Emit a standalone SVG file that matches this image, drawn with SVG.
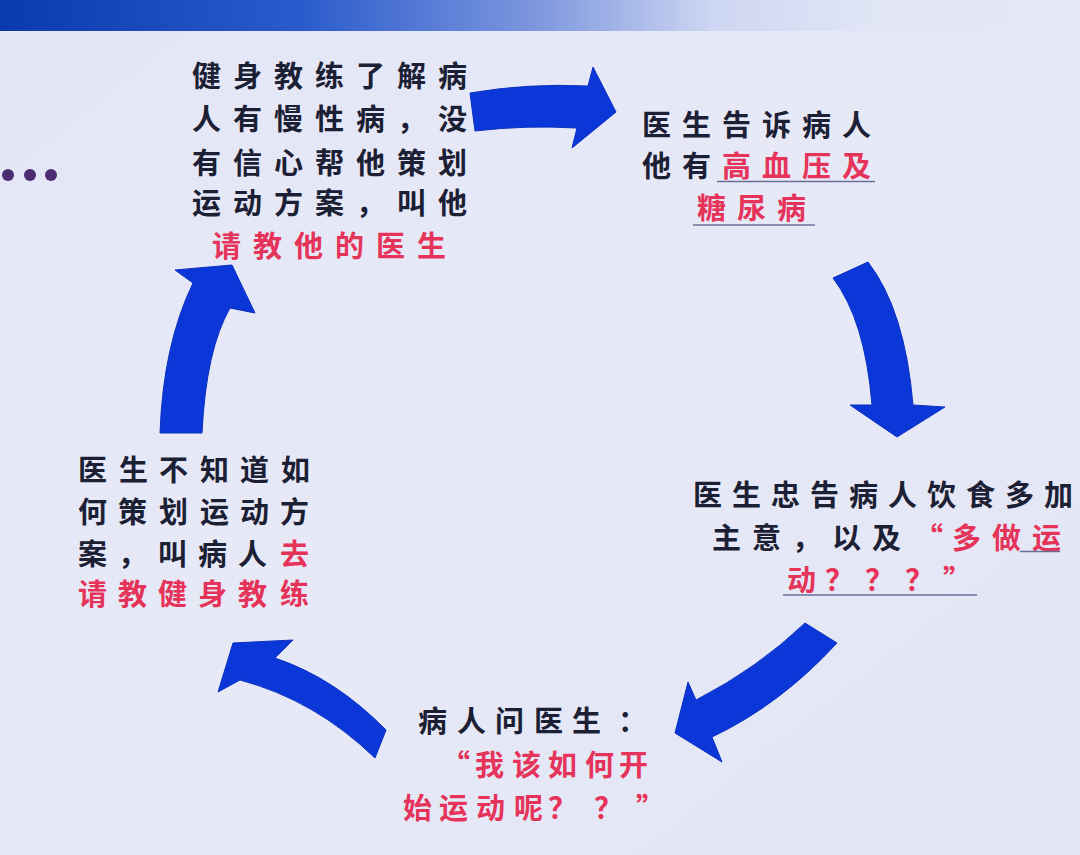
<svg xmlns="http://www.w3.org/2000/svg" width="1080" height="855" viewBox="0 0 1080 855">
<defs>
<linearGradient id="bar" x1="0" y1="0" x2="1" y2="0">
<stop offset="0" stop-color="#0a3aae"/>
<stop offset="0.28" stop-color="#2a5bcc"/>
<stop offset="0.5" stop-color="#7f98de"/>
<stop offset="0.66" stop-color="#cdd6f2"/>
<stop offset="0.8" stop-color="#e0e5f6"/>
<stop offset="1" stop-color="#e4e8f7"/>
</linearGradient>
<linearGradient id="bg" x1="0" y1="0" x2="1" y2="1">
<stop offset="0" stop-color="#e3e6f5"/>
<stop offset="0.5" stop-color="#e7e9f7"/>
<stop offset="1" stop-color="#e2e5f4"/>
</linearGradient>
</defs>
<style>
.t{font-family:"Noto Sans CJK SC","Noto Sans CJK TC",sans-serif;font-size:29px;font-weight:700;fill:#1c2034}
.r{fill:#e6335a}
.ul{stroke:#6c6c98;stroke-width:1.6;fill:none}
.arr{fill:#0b37d8;stroke:#0a30c0;stroke-width:1;stroke-linejoin:round}
</style>
<rect x="0" y="0" width="1080" height="855" fill="url(#bg)"/>
<rect x="0" y="0" width="1080" height="31" fill="url(#bar)"/>
<g id="dots" fill="#4b2c72">
<circle cx="8" cy="175" r="6"/>
<circle cx="30" cy="175" r="6"/>
<circle cx="51" cy="175" r="6"/>
</g>
<g id="connectors">
<path class="arr" d="M470,93 Q528,83 588,86 L593,67 L616,112 L572,148 L577,128 Q525,125 475,131 Z"/>
<path class="arr" d="M833,278 Q865,320 872,405 L850,405 L897,437 L945,407 L913,405 Q905,310 868,262 Z"/>
<path class="arr" d="M805,623 Q758,668 696,700 L688,682 L675,733 L722,762 L712,737 Q780,705 837,643 Z"/>
<path class="arr" d="M233,643 L293,640 L275,658 Q335,678 386,730 L375,758 Q315,700 240,680 L218,692 Z"/>
<path class="arr" d="M160,433 Q163,345 193,283 L175,270 L232,265 L255,313 L230,308 Q206,350 202,433 Z"/>
</g>
<g id="n1">
<text class="t" x="192 233 274 315 356 397 438" y="87">健身教练了解病</text>
<text class="t" x="192 233 274 315 356 397 438" y="130">人有慢性病，没</text>
<text class="t" x="192 233 274 315 356 397 438" y="174">有信心帮他策划</text>
<text class="t" x="192 233 274 315 356 397 438" y="214">运动方案，叫他</text>
<text class="t r" x="212 253 294 335 376 417" y="257">请教他的医生</text>
</g>
<g id="n2">
<text class="t" x="642 682 722 762 802 842" y="136">医生告诉病人</text>
<text class="t" y="177"><tspan x="642 682">他有</tspan><tspan class="r" x="722 762 802 842">高血压及</tspan></text>
<text class="t r" x="697 737 777" y="219">糖尿病</text>
<line class="ul" x1="717" y1="181.5" x2="875" y2="181.5"/>
<line class="ul" x1="693" y1="225" x2="815" y2="225"/>
</g>
<g id="n3">
<text class="t" x="693 732 771 810 849 888 927 966 1005 1044" y="506">医生忠告病人饮食多加</text>
<text class="t" y="549"><tspan x="712 752 792 832 872">主意，以及</tspan><tspan class="r" x="914 952 992 1032">“多做运</tspan></text>
<text class="t r" x="787 825 865 905 943" y="591">动？？？”</text>
<line class="ul" x1="1020" y1="551.5" x2="1060" y2="551.5"/>
<line class="ul" x1="783" y1="595" x2="977" y2="595"/>
</g>
<g id="n4">
<text class="t" x="418 457 495 534 572 618" y="732">病人问医生：</text>
<text class="t r" x="441 475 512 548 585 619" y="776">“我该如何开</text>
<text class="t r" x="403 439 476 514 548 594 636" y="819">始运动呢？？”</text>
</g>
<g id="n5">
<text class="t" x="78 119 159 200 240 281" y="481">医生不知道如</text>
<text class="t" x="78 118 159 200 240 280" y="523">何策划运动方</text>
<text class="t" y="565"><tspan x="78 118 158 198 238">案，叫病人</tspan><tspan class="r" x="280">去</tspan></text>
<text class="t r" x="78 118 158 198 238 280" y="605">请教健身教练</text>
</g>
</svg>
